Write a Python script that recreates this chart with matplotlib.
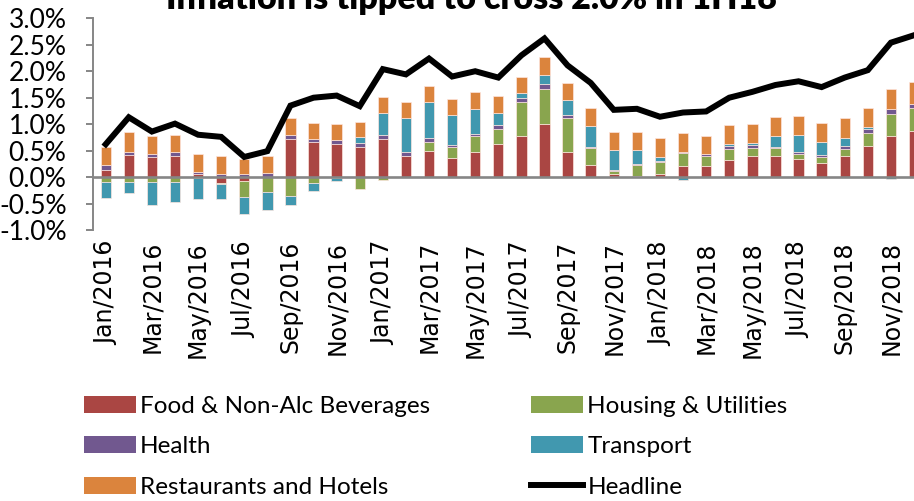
import matplotlib
matplotlib.use("Agg")
import matplotlib.pyplot as plt
import numpy as np
from matplotlib.patches import Patch
from matplotlib.lines import Line2D

# monthly contributions to headline inflation (percentage points), Jan 2016 - Dec 2018
months = ["Jan", "Feb", "Mar", "Apr", "May", "Jun", "Jul", "Aug", "Sep", "Oct", "Nov", "Dec"]
years = [2016, 2017, 2018]
labels = [f"{m}/{y}" for y in years for m in months]

food = [0.14, 0.42, 0.38, 0.40, 0.05, -0.11, -0.08, 0.01, 0.72, 0.66, 0.63, 0.57,
        0.72, 0.40, 0.49, 0.36, 0.47, 0.62, 0.77, 1.01, 0.47, 0.23, 0.05, 0.02,
        0.05, 0.21, 0.21, 0.33, 0.40, 0.39, 0.34, 0.27, 0.40, 0.58, 0.78, 0.87]
housing = [-0.10, -0.10, -0.09, -0.10, -0.01, -0.02, -0.29, -0.29, -0.35, -0.11, -0.02, -0.22,
           -0.06, 0.00, 0.18, 0.20, 0.30, 0.29, 0.65, 0.65, 0.64, 0.31, 0.07, 0.21,
           0.23, 0.24, 0.19, 0.20, 0.14, 0.15, 0.10, 0.11, 0.13, 0.26, 0.42, 0.43]
health = [0.08, 0.06, 0.06, 0.07, 0.05, 0.05, 0.05, 0.06, 0.07, 0.06, 0.07, 0.07,
          0.08, 0.08, 0.06, 0.05, 0.04, 0.07, 0.08, 0.09, 0.06, 0.03, 0.02, 0.02,
          0.03, 0.03, 0.04, 0.06, 0.06, 0.03, 0.03, 0.03, 0.05, 0.06, 0.09, 0.09]
transport = [-0.30, -0.21, -0.43, -0.38, -0.40, -0.29, -0.33, -0.33, -0.18, -0.15, -0.05, 0.11,
             0.41, 0.64, 0.69, 0.57, 0.48, 0.23, 0.08, 0.18, 0.28, 0.40, 0.38, 0.27,
             0.07, -0.06, 0.00, 0.04, 0.04, 0.20, 0.32, 0.25, 0.16, 0.04, -0.03, 0.00]
restaurants = [0.35, 0.37, 0.33, 0.33, 0.34, 0.34, 0.29, 0.33, 0.32, 0.31, 0.30, 0.30,
               0.30, 0.30, 0.30, 0.30, 0.32, 0.32, 0.32, 0.33, 0.33, 0.34, 0.34, 0.33,
               0.35, 0.35, 0.34, 0.36, 0.36, 0.36, 0.37, 0.36, 0.37, 0.37, 0.38, 0.40]
headline = [0.62, 1.13, 0.86, 1.01, 0.80, 0.76, 0.38, 0.49, 1.35, 1.50, 1.54, 1.34,
            2.04, 1.94, 2.24, 1.90, 2.00, 1.88, 2.30, 2.62, 2.11, 1.78, 1.27, 1.29,
            1.14, 1.22, 1.24, 1.50, 1.61, 1.74, 1.81, 1.70, 1.88, 2.02, 2.54, 2.68]

series = [
    ("Food & Non-Alc Beverages", food, "#AA4643"),
    ("Housing & Utilities", housing, "#89A54E"),
    ("Health", health, "#71588F"),
    ("Transport", transport, "#4198AF"),
    ("Restaurants and Hotels", restaurants, "#DB843D"),
]

W, H = 914, 501
fig = plt.figure(figsize=(W / 100, H / 100), dpi=100)
ax = fig.add_axes([93 / W, 1 - 230 / H, (W - 93) / W, (230 - 18.3) / H])

x = np.arange(len(labels))
pos_base = np.zeros(len(x))
neg_base = np.zeros(len(x))
for name, vals, col in series:
    v = np.array(vals)
    bottoms = np.where(v >= 0, pos_base, neg_base)
    ax.bar(x, v, 0.45, bottom=bottoms, color=col, edgecolor=(1, 0.9, 0.88, 0.8),
           linewidth=0.6, zorder=2)
    pos_base += np.where(v >= 0, v, 0)
    neg_base += np.where(v < 0, v, 0)

ax.axhline(0, color="#868686", lw=1.9, zorder=3)
ax.plot(x, headline, color="black", lw=4.3, solid_joinstyle="miter", zorder=4)

ax.set_xlim(-0.55, 35.0)
ax.set_ylim(-1.0, 3.0)
ax.set_yticks(np.arange(-1.0, 3.01, 0.5))
ax.set_yticklabels([f"{v:.1f}%" for v in np.arange(-1.0, 3.01, 0.5)],
                   fontfamily="Lato", fontsize=19)
ax.set_xticks(x[::2])
ax.set_xticklabels(labels[::2], rotation=90, fontfamily="DejaVu Sans", fontsize=17)
ax.tick_params(axis="x", length=0, pad=8)
ax.tick_params(axis="y", length=5, width=1.4, color="#868686", pad=14)
for s in ["top", "right", "bottom"]:
    ax.spines[s].set_visible(False)
ax.spines["left"].set_color("#868686")
ax.spines["left"].set_linewidth(1.4)

# title sits partly above the top edge, as in the original
fig.text(471 / W, 1 - 9 / H, "Inflation is tipped to cross 2.0% in 1H18",
         ha="center", va="baseline", fontfamily="Lato", fontweight="heavy", fontsize=24.5)

handles = [Patch(facecolor=c, edgecolor="none") for _, _, c in series]
handles.insert(5, Line2D([], [], color="black", lw=4.3))
names = [n for n, _, _ in series] + ["Headline"]
# column order for a 2-column legend (fills down columns)
order = [0, 2, 4, 1, 3, 5]
fig.legend([handles[i] for i in order], [names[i] for i in order], ncol=2,
           loc="upper left", bbox_to_anchor=(84 / W, 1 - 396 / H), frameon=False,
           prop={"family": "Lato", "size": 17.5}, handlelength=2.14, handleheight=0.7,
           handletextpad=0.17, columnspacing=4.15, labelspacing=0.8,
           borderpad=0, borderaxespad=0)

fig.savefig("out.png", dpi=100)
